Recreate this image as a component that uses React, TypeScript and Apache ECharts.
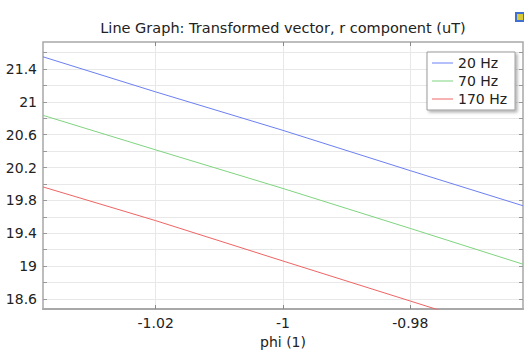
import React, { useEffect, useRef } from "react";
import * as echarts from "echarts";

const phi = [-1.0377, -1.02, -1.0, -0.98, -0.9623];
const r20 = [21.547, 21.12, 20.652, 20.162, 19.735];
const r70 = [20.835, 20.415, 19.945, 19.459, 19.024];
const r170 = [19.964, 19.554, 19.063, 18.576, 18.144];
const seriesNames = ["20 Hz", "70 Hz", "170 Hz"];
const seriesColors = ["#6b7ff2", "#7fd47f", "#ee6464"];
const xTicks = [-1.02, -1.0, -0.98];
const yLabels = [18.6, 19.0, 19.4, 19.8, 20.2, 20.6, 21.0, 21.4];
const yTicks = [18.6, 18.8, 19.0, 19.2, 19.4, 19.6, 19.8, 20.0, 20.2, 20.4, 20.6, 20.8, 21.0, 21.2, 21.4, 21.6];
const xRange = [-1.0377, -0.9623];
const yRange = [18.478, 21.727];

const FONT = "DejaVu Sans";

export default function App() {
  const ref = useRef<HTMLDivElement>(null);
  useEffect(() => {
    if (!ref.current) return;
    const chart = echarts.init(ref.current, null, { renderer: "svg" });
    const allY = [r20, r70, r170];
    const fmtX = (v: number) => String(+v.toFixed(2));
    const fmtY = (v: number) => String(+v.toFixed(1));
    const gridColor = "#e8e8e8";
    const borderColor = "#a8a8a8";
    chart.setOption({
      animation: false,
      backgroundColor: "#ffffff",
      textStyle: { fontFamily: FONT },
      title: {
        text: "Line Graph: Transformed vector, r component (uT)",
        left: 283,
        top: 20,
        textAlign: "center",
        padding: 0,
        textStyle: { fontFamily: FONT, fontSize: 14.5, fontWeight: "normal", color: "#222" },
      },
      graphic: [
        {
          type: "rect",
          shape: { x: 516, y: 13, width: 8, height: 8 },
          style: { fill: "#d8c93a", stroke: "#3f6fd0", lineWidth: 2 },
        },
      ],
      legend: {
        orient: "vertical",
        left: 427,
        top: 52,
        padding: [4, 8, 4, 5],
        itemGap: 4,
        itemWidth: 21,
        itemHeight: 1,
        icon: "rect",
        backgroundColor: "#ffffff",
        borderColor: "#9a9a9a",
        borderWidth: 1,
        borderRadius: 0,
        shadowBlur: 3,
        shadowColor: "rgba(0,0,0,0.3)",
        shadowOffsetX: 2,
        shadowOffsetY: 2,
        textStyle: { fontFamily: FONT, fontSize: 14, lineHeight: 14, color: "#222" },
        data: seriesNames,
      },
      grid: {
        left: 43,
        top: 42,
        right: 1,
        bottom: 38,
        show: true,
        borderColor: borderColor,
        borderWidth: 1.5,
        containLabel: false,
      },
      xAxis: [
        {
          type: "value",
          min: xRange[0],
          max: xRange[1],
          position: "bottom",
          name: "phi (1)",
          nameLocation: "middle",
          nameGap: 21,
          nameTextStyle: { fontFamily: FONT, fontSize: 14, color: "#222" },
          axisLine: { show: true, lineStyle: { color: borderColor, width: 2 } },
          axisTick: { show: true, inside: true, length: 4, customValues: xTicks, lineStyle: { color: "#888" } },
          axisLabel: { customValues: xTicks, formatter: fmtX, fontFamily: FONT, fontSize: 14, color: "#222", margin: 7 },
          splitLine: { show: true, lineStyle: { color: gridColor, width: 1 } },
        },
        {
          type: "value",
          min: xRange[0],
          max: xRange[1],
          position: "top",
          axisLine: { show: false },
          axisTick: { show: true, inside: true, length: 4, customValues: xTicks, lineStyle: { color: "#888" } },
          axisLabel: { show: false },
          splitLine: { show: false },
        },
      ],
      yAxis: [
        {
          type: "value",
          min: yRange[0],
          max: yRange[1],
          position: "left",
          axisLine: { show: false },
          axisTick: { show: true, inside: true, length: 4, customValues: yTicks, lineStyle: { color: "#999" } },
          axisLabel: { customValues: yLabels, formatter: fmtY, fontFamily: FONT, fontSize: 14, color: "#222", margin: 6 },
          splitLine: { show: true, lineStyle: { color: gridColor, width: 1 } },
        },
        {
          type: "value",
          min: yRange[0],
          max: yRange[1],
          position: "right",
          axisLine: { show: false },
          axisTick: { show: true, inside: true, length: 4, customValues: yTicks, lineStyle: { color: "#999" } },
          axisLabel: { show: false },
          splitLine: { show: false },
        },
      ],
      series: seriesNames.map((name, i) => ({
        name,
        type: "line",
        xAxisIndex: 0,
        yAxisIndex: 0,
        symbol: "none",
        showSymbol: false,
        clip: true,
        color: seriesColors[i],
        lineStyle: { width: 1, color: seriesColors[i] },
        data: phi.map((x, k) => [x, allY[i][k]]),
      })),
    });
    return () => chart.dispose();
  }, []);
  return (
    <div
      ref={ref}
      style={{ position: "fixed", left: 0, top: 0, width: 524, height: 354 }}
    />
  );
}
